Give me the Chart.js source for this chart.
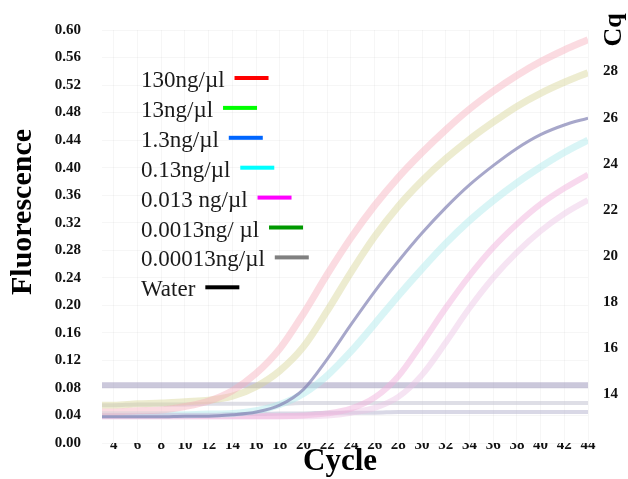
<!DOCTYPE html>
<html>
<head>
<meta charset="utf-8">
<script src="https://cdn.jsdelivr.net/npm/chart.js@4.4.1/dist/chart.umd.min.js"></script>
<style>
  html, body { margin: 0; padding: 0; background: #fff; }
</style>
</head>
<body>
<canvas id="qpcrChart" width="628" height="479"></canvas>
<script>
// amplification data, fluorescence per cycle
const cycles = [3, 4, 6, 8, 10, 12, 14, 16, 18, 20, 22, 24, 26, 28, 30, 32, 34, 36, 38, 40, 42, 44];

const conc130 = [0.045, 0.045, 0.047, 0.048, 0.053, 0.061, 0.076, 0.101, 0.137, 0.188, 0.245, 0.298, 0.345, 0.386, 0.422, 0.455, 0.485, 0.511, 0.534, 0.554, 0.571, 0.586];
const conc13 = [0.055, 0.055, 0.057, 0.058, 0.060, 0.062, 0.068, 0.082, 0.105, 0.140, 0.192, 0.248, 0.300, 0.344, 0.381, 0.413, 0.441, 0.466, 0.489, 0.508, 0.524, 0.538];
const conc1_3 = [0.038, 0.038, 0.038, 0.038, 0.039, 0.039, 0.041, 0.045, 0.055, 0.078, 0.122, 0.172, 0.220, 0.264, 0.305, 0.342, 0.375, 0.403, 0.428, 0.448, 0.462, 0.472];
const conc0_13 = [0.041, 0.041, 0.041, 0.041, 0.041, 0.042, 0.043, 0.047, 0.056, 0.072, 0.098, 0.133, 0.173, 0.214, 0.253, 0.290, 0.323, 0.352, 0.378, 0.401, 0.422, 0.440];
const conc0_013 = [0.039, 0.039, 0.039, 0.039, 0.039, 0.039, 0.039, 0.039, 0.039, 0.040, 0.043, 0.050, 0.066, 0.097, 0.145, 0.196, 0.243, 0.284, 0.318, 0.347, 0.370, 0.390];
const conc0_0013 = [0.039, 0.039, 0.039, 0.039, 0.039, 0.039, 0.039, 0.039, 0.039, 0.039, 0.040, 0.044, 0.051, 0.067, 0.099, 0.146, 0.196, 0.240, 0.277, 0.308, 0.333, 0.353];
const conc0_00013 = [0.055, 0.055, 0.056, 0.056, 0.056, 0.057, 0.057, 0.057, 0.057, 0.058, 0.058, 0.058, 0.058, 0.058, 0.058, 0.058, 0.058, 0.058, 0.058, 0.058, 0.058, 0.058];
const water = [0.040, 0.040, 0.040, 0.041, 0.041, 0.041, 0.042, 0.042, 0.043, 0.043, 0.044, 0.044, 0.044, 0.045, 0.045, 0.045, 0.045, 0.045, 0.045, 0.045, 0.045, 0.045];

const thresholdCycles = [3, 44];
const thresholdValues = [0.084, 0.084];

const seriesLabels = ['130ng/\u00b5l', '13ng/\u00b5l', '1.3ng/\u00b5l', '0.13ng/\u00b5l', '0.013 ng/\u00b5l', '0.0013ng/ \u00b5l', '0.00013ng/\u00b5l', 'Water'];
const seriesValues = [conc130, conc13, conc1_3, conc0_13, conc0_013, conc0_0013, conc0_00013, water];

// axis ticks
const xTickValues = [4, 6, 8, 10, 12, 14, 16, 18, 20, 22, 24, 26, 28, 30, 32, 34, 36, 38, 40, 42, 44];
const yTickValues = [0, 0.04, 0.08, 0.12, 0.16, 0.20, 0.24, 0.28, 0.32, 0.36, 0.40, 0.44, 0.48, 0.52, 0.56, 0.60];
const cqTickValues = [14, 16, 18, 20, 22, 24, 26, 28];

// colours: strong ones for the key, washed-out ones for the curves
const keyColors = ['#ff0000', '#00ff00', '#0066ff', '#00ffff', '#ff00ff', '#009900', '#808080', '#000000'];
const lineColors = [
  'rgba(246,175,188,0.45)',
  'rgba(215,212,150,0.45)',
  'rgba(130,130,180,0.7)',
  'rgba(170,232,236,0.45)',
  'rgba(242,180,222,0.5)',
  'rgba(236,196,228,0.45)',
  'rgba(190,190,205,0.5)',
  'rgba(180,178,205,0.5)'
];
const lineWidths = [7, 7, 3, 7, 6, 6, 4, 4];

const serif = "'Liberation Serif', 'Times New Roman', serif";

function toPoints(xs, ys) {
  return xs.map((x, i) => ({ x: x, y: ys[i] }));
}

const datasets = seriesValues.map((vals, i) => ({
  label: seriesLabels[i],
  data: toPoints(cycles, vals),
  borderColor: lineColors[i],
  borderWidth: lineWidths[i],
  pointRadius: 0,
  fill: false,
  cubicInterpolationMode: 'monotone',
  order: i === 2 ? 0 : 1
}));

datasets.push({
  label: 'threshold',
  data: toPoints(thresholdCycles, thresholdValues),
  borderColor: 'rgba(160,155,190,0.55)',
  borderWidth: 6,
  pointRadius: 0,
  fill: false,
  order: 2
});

// key + axis titles drawn by hand
const annotations = {
  id: 'annotations',
  afterDraw(chart) {
    const ctx = chart.ctx;
    ctx.save();

    ctx.font = '23px ' + serif;
    ctx.fillStyle = '#1a1a1a';
    ctx.textBaseline = 'alphabetic';
    ctx.textAlign = 'left';
    seriesLabels.forEach((label, i) => {
      const base = 87 + i * 29.9;
      ctx.fillText(label, 141, base);
      const end = 141 + ctx.measureText(label).width;
      ctx.fillStyle = keyColors[i];
      ctx.fillRect(end + 10, base - 11, 34, 4);
      ctx.fillStyle = '#1a1a1a';
    });

    ctx.fillStyle = '#000';
    ctx.textAlign = 'center';
    ctx.textBaseline = 'middle';

    ctx.font = 'bold 30px ' + serif;
    ctx.save();
    ctx.translate(23, 212);
    ctx.rotate(-Math.PI / 2);
    ctx.fillText('Fluorescence', 0, 0);
    ctx.restore();

    ctx.font = 'bold 31px ' + serif;
    ctx.fillText('Cycle', 340, 462);

    ctx.font = 'bold 26px ' + serif;
    ctx.save();
    ctx.translate(614, 30);
    ctx.rotate(-Math.PI / 2);
    ctx.fillText('Cq', 0, 0);
    ctx.restore();

    ctx.restore();
  }
};

const tickFont = { family: serif, size: 15, weight: 'bold' };
const faintGrid = { color: 'rgba(0,0,0,0.035)', drawTicks: false };

new Chart(document.getElementById('qpcrChart'), {
  type: 'line',
  data: { datasets: datasets },
  options: {
    responsive: false,
    animation: false,
    layout: { padding: { top: 30, left: 0, right: 0, bottom: 0 } },
    plugins: {
      legend: { display: false },
      tooltip: { enabled: false }
    },
    scales: {
      x: {
        type: 'linear',
        min: 3,
        max: 44,
        grid: faintGrid,
        border: { display: false },
        ticks: {
          font: tickFont,
          color: '#111',
          padding: -7,
          maxRotation: 0,
          autoSkip: false
        },
        afterBuildTicks: s => { s.ticks = xTickValues.map(v => ({ value: v })); },
        afterFit: s => { s.height = 36; }
      },
      y: {
        type: 'linear',
        position: 'left',
        min: 0,
        max: 0.6,
        grid: faintGrid,
        border: { display: false },
        ticks: {
          font: tickFont,
          color: '#111',
          padding: 21,
          autoSkip: false,
          callback: v => v.toFixed(2)
        },
        afterBuildTicks: s => { s.ticks = yTickValues.map(v => ({ value: v })); },
        afterFit: s => { s.width = 102; }
      },
      cq: {
        type: 'linear',
        position: 'right',
        min: 11.9,
        max: 29.8,
        grid: { display: false, drawTicks: false },
        border: { display: false },
        ticks: {
          font: tickFont,
          color: '#111',
          padding: 15,
          autoSkip: false
        },
        afterBuildTicks: s => { s.ticks = cqTickValues.map(v => ({ value: v })); },
        afterFit: s => { s.width = 40; }
      }
    }
  },
  plugins: [annotations]
});
</script>
</body>
</html>
